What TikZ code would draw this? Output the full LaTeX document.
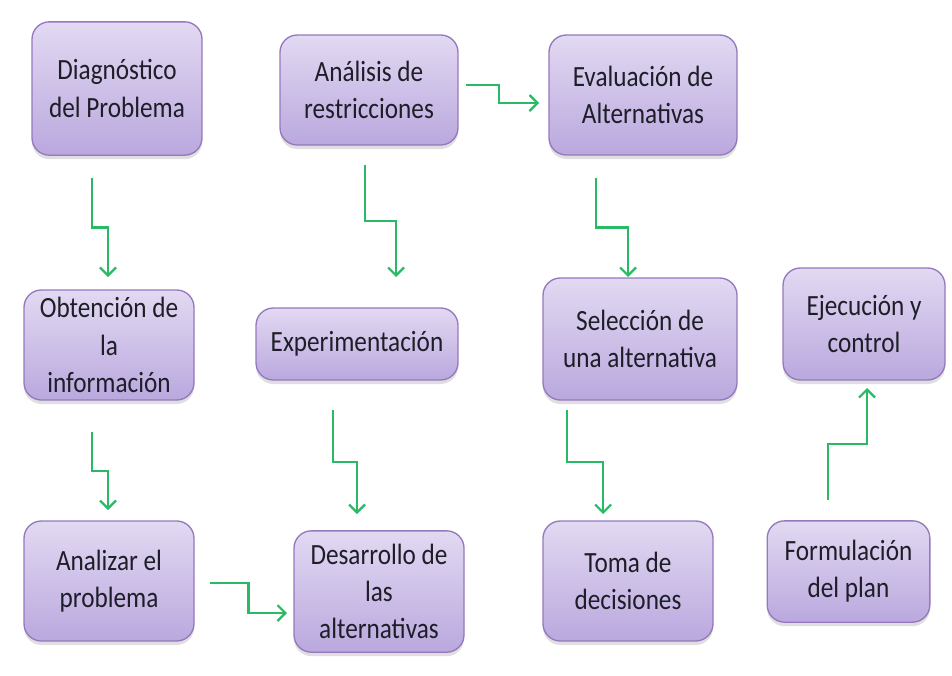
\documentclass[tikz,border=0pt]{standalone}
\usepackage{fontspec}
\setmainfont{Carlito}[FakeStretch=0.86]
\usetikzlibrary{arrows.meta,shadows,calc}
\definecolor{boxtop}{RGB}{226,217,242}
\definecolor{boxbot}{RGB}{186,168,222}
\definecolor{boxline}{RGB}{150,120,190}
\definecolor{flowgreen}{RGB}{40,186,100}
\definecolor{txtgray}{RGB}{30,30,40}

\begin{document}
\begin{tikzpicture}[x=0.75pt,y=-0.75pt,
  stage/.style={draw=boxline,line width=1pt,rounded corners=13pt,
    top color=boxtop,bottom color=boxbot,align=center,text=txtgray,inner sep=0pt,
    font=\fontsize{22}{28}\selectfont,
    drop shadow={shadow xshift=0pt,shadow yshift=-3pt,opacity=0.25}},
  flow/.style={draw=flowgreen,line width=1.6pt,-{Straight Barb[length=6pt,width=12pt]}}]
  \useasboundingbox (0,0) rectangle (952,675);
  % stages
  \node[stage,minimum width=127.5pt,minimum height=100pt] (diag) at (117,88.5) {Diagnóstico\\del Problema};
  \node[stage,minimum width=133.5pt,minimum height=82.5pt] (restr) at (369,90) {Análisis de\\restricciones};
  \node[stage,minimum width=141pt,minimum height=90pt] (eval) at (643,95) {Evaluación de\\Alternativas};
  \node[stage,minimum width=127.5pt,minimum height=82.5pt] (info) at (109,345) {Obtención de\\la\\información};
  \node[stage,minimum width=151.5pt,minimum height=54pt] (exper) at (357,344) {Experimentación};
  \node[stage,minimum width=145.5pt,minimum height=91.5pt] (selec) at (640,339) {Selección de\\una alternativa};
  \node[stage,minimum width=121.5pt,minimum height=84pt] (ejec) at (864,324) {Ejecución y\\control};
  \node[stage,minimum width=127.5pt,minimum height=90pt] (anal) at (109,581) {Analizar el\\problema};
  \node[stage,minimum width=127.5pt,minimum height=91pt] (desa) at (379,591.5) {Desarrollo de\\las\\alternativas};
  \node[stage,minimum width=127.5pt,minimum height=90pt] (toma) at (628,581) {Toma de\\decisiones};
  \node[stage,minimum width=122pt,minimum height=76pt] (formu) at (848.5,571.5) {Formulación\\del plan};
  % arrow ends
  \coordinate (diag-s) at (92,178);   \coordinate (info-n) at (108,277);
  \coordinate (info-s) at (92,432);   \coordinate (anal-n) at (108,510);
  \coordinate (anal-e) at (210,583);  \coordinate (desa-w) at (287,613);
  \coordinate (restr-s) at (365,165); \coordinate (exper-n) at (396,277);
  \coordinate (exper-s) at (333,410); \coordinate (desa-n) at (357,514);
  \coordinate (restr-e) at (466,85);  \coordinate (eval-w) at (539,103);
  \coordinate (eval-s) at (596,178);  \coordinate (selec-n) at (628,277);
  \coordinate (selec-s) at (567,410); \coordinate (toma-n) at (603,514);
  \coordinate (formu-n) at (828,500); \coordinate (ejec-s) at (867,388);
  % arrows
  \draw[flow] (diag-s) |- ($(diag-s)!0.5!(info-n)$) -| (info-n);
  \draw[flow] (info-s) |- ($(info-s)!0.5!(anal-n)$) -| (anal-n);
  \draw[flow] (anal-e) -| ($(anal-e)!0.5!(desa-w)$) |- (desa-w);
  \draw[flow] (restr-s) |- ($(restr-s)!0.5!(exper-n)$) -| (exper-n);
  \draw[flow] (exper-s) |- ($(exper-s)!0.5!(desa-n)$) -| (desa-n);
  \draw[flow] (restr-e) -| ($(restr-e)!0.45!(eval-w)$) |- (eval-w);
  \draw[flow] (eval-s) |- ($(eval-s)!0.5!(selec-n)$) -| (selec-n);
  \draw[flow] (selec-s) |- ($(selec-s)!0.5!(toma-n)$) -| (toma-n);
  \draw[flow] (formu-n) |- ($(formu-n)!0.5!(ejec-s)$) -| (ejec-s);
\end{tikzpicture}
\end{document}
